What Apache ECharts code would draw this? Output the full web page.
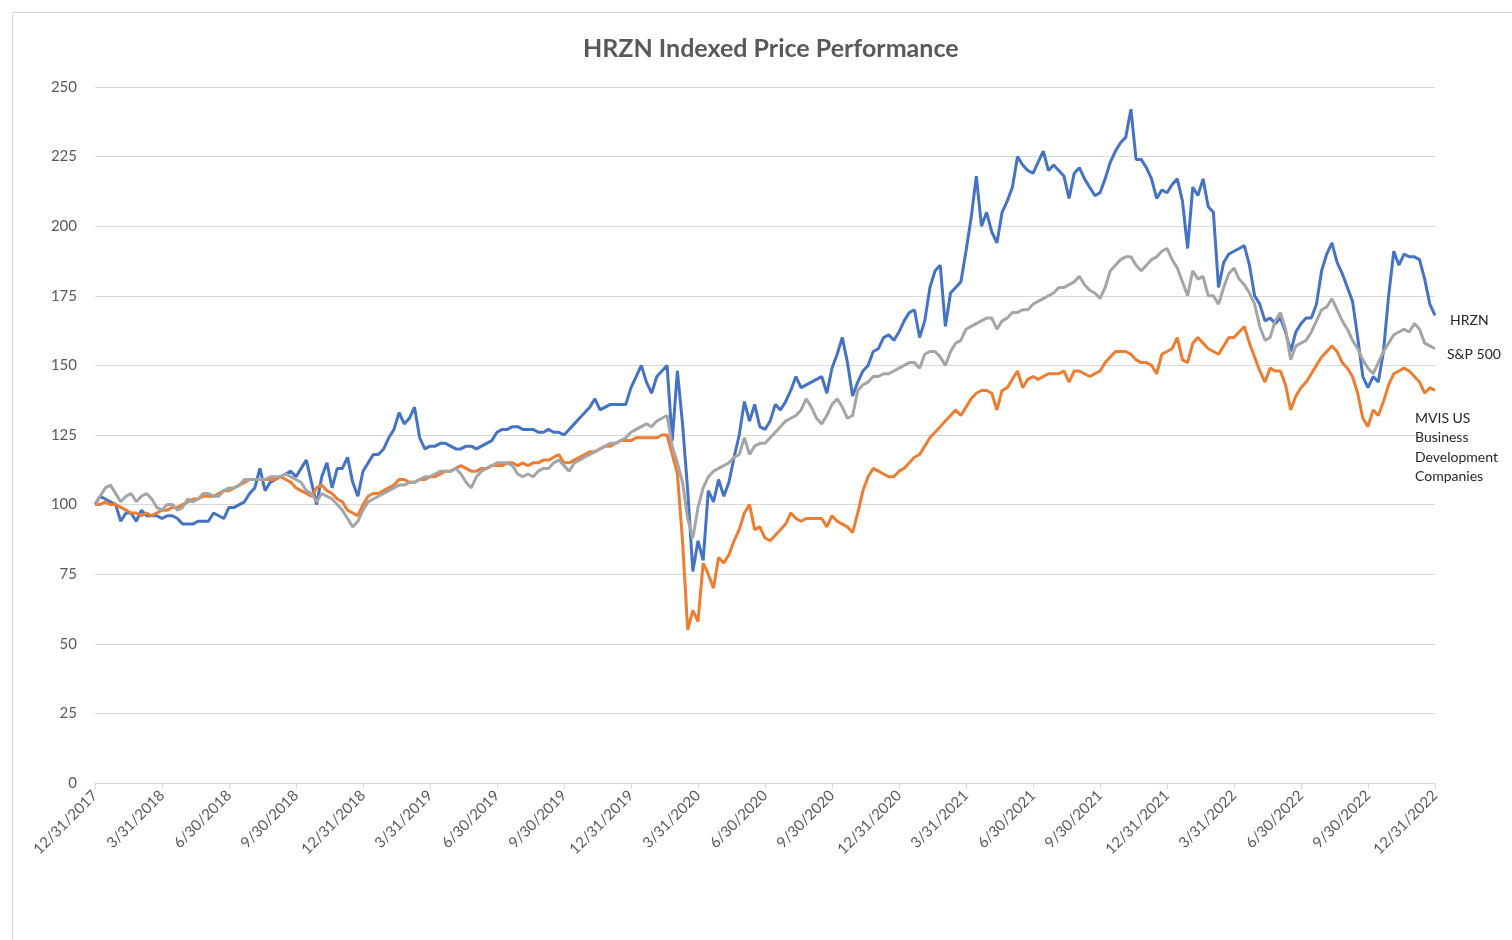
<!DOCTYPE html>
<html>
<head>
<meta charset="utf-8">
<title>HRZN Indexed Price Performance</title>
<script src="https://cdn.jsdelivr.net/npm/echarts@6/dist/echarts.min.js"></script>
<style>
html, body { margin: 0; padding: 0; background: #fff; }
#chart { width: 1512px; height: 940px; }
</style>
</head>
<body>
<div id="chart"></div>
<script>
// quarter-end tick labels (one every 13 weeks)
var quarterLabels = ["12/31/2017","3/31/2018","6/30/2018","9/30/2018","12/31/2018",
	"3/31/2019","6/30/2019","9/30/2019","12/31/2019","3/31/2020","6/30/2020",
	"9/30/2020","12/31/2020","3/31/2021","6/30/2021","9/30/2021","12/31/2021",
	"3/31/2022","6/30/2022","9/30/2022","12/31/2022"];

// weekly index values, 261 points each (week 0 = 12/31/2017)
var hrzn = [
	100,103,102,101,100,94,97,97,94,98,96,96,96,
	95,96,96,95,93,93,93,94,94,94,97,96,95,
	99,99,100,101,104,106,113,105,108,109,110,111,112,
	110,113,116,108,100,110,115,106,113,113,117,108,103,
	112,115,118,118,120,124,127,133,129,131,135,124,120,
	121,121,122,122,121,120,120,121,121,120,121,122,123,
	126,127,127,128,128,127,127,127,126,126,127,126,126,
	125,127,129,131,133,135,138,134,135,136,136,136,136,
	142,146,150,144,140,146,148,150,123,148,129,105,76,
	87,80,105,101,109,103,108,117,125,137,130,136,128,
	127,130,136,134,137,141,146,142,143,144,145,146,140,
	149,154,160,151,139,144,148,150,155,156,160,161,159,
	162,166,169,170,160,166,178,184,186,164,176,178,180,
	191,203,218,200,205,198,194,205,209,214,225,222,220,
	219,223,227,220,222,220,218,210,219,221,217,214,211,
	212,217,223,227,230,232,242,224,224,221,217,210,213,
	212,215,217,209,192,214,211,217,207,205,178,187,190,
	191,192,193,186,175,172,166,167,165,167,162,155,162,
	165,167,167,172,184,190,194,187,183,178,173,160,146,
	142,146,144,155,175,191,186,190,189,189,188,181,172,168
];
var sp500 = [
	100,103,106,107,104,101,103,104,101,103,104,102,99,
	98,100,100,98,99,102,101,102,104,104,103,103,105,
	106,106,107,109,109,109,109,109,110,110,110,111,110,
	109,108,105,104,101,104,103,102,100,98,95,92,94,
	98,101,102,103,104,105,106,107,107,108,108,109,110,
	110,111,112,112,112,113,111,108,106,110,112,113,114,
	115,115,115,114,111,110,111,110,112,113,113,115,116,
	114,112,115,116,117,118,119,120,121,122,122,123,124,
	126,127,128,129,128,130,131,132,121,115,108,95,88,
	99,106,110,112,113,114,115,117,118,124,118,121,122,
	122,124,126,128,130,131,132,134,138,135,131,129,132,
	136,138,135,131,132,141,143,144,146,146,147,147,148,
	149,150,151,151,149,154,155,155,153,150,155,158,159,
	163,164,165,166,167,167,163,166,167,169,169,170,170,
	172,173,174,175,176,178,178,179,180,182,179,177,176,
	174,178,184,186,188,189,189,186,184,186,188,189,191,
	192,188,185,180,175,184,181,182,175,175,172,178,183,
	185,181,179,176,172,164,159,160,166,169,163,152,157,
	158,159,162,166,170,171,174,170,166,163,159,156,152,
	149,147,151,155,158,161,162,163,162,165,163,158,157,156
];
var mvis = [
	100,100,101,100,100,99,98,97,97,96,97,96,97,
	98,98,99,99,100,101,102,102,103,103,103,104,105,
	105,106,107,108,109,109,109,109,109,109,110,109,108,
	106,105,104,103,106,107,105,104,102,101,98,97,96,
	100,103,104,104,105,106,107,109,109,108,108,109,109,
	110,110,111,112,112,113,114,113,112,112,113,113,114,
	114,114,115,115,114,115,114,115,115,116,116,117,118,
	115,115,116,117,118,119,119,120,121,121,122,123,123,
	123,124,124,124,124,124,125,125,118,111,87,55,62,
	58,79,75,70,81,79,82,87,91,97,100,91,92,
	88,87,89,91,93,97,95,94,95,95,95,95,92,
	96,94,93,92,90,97,105,110,113,112,111,110,110,
	112,113,115,117,118,121,124,126,128,130,132,134,132,
	135,138,140,141,141,140,134,141,142,145,148,142,145,
	146,145,146,147,147,147,148,144,148,148,147,146,147,
	148,151,153,155,155,155,154,152,151,151,150,147,154,
	155,156,160,152,151,158,160,158,156,155,154,157,160,
	160,162,164,158,153,148,144,149,148,148,143,134,139,
	142,144,147,150,153,155,157,155,151,149,146,140,131,
	128,134,132,137,143,147,148,149,148,146,144,140,142,141
];

var seriesNames = ["HRZN", "MVIS US Business Development Companies", "S&P 500"];
var endLabels = ["HRZN", "MVIS US\nBusiness\nDevelopment\nCompanies", "S&P 500"];
var seriesColors = ["#4472C4", "#ED7D31", "#A5A5A5"];

function toPoints(arr){
	var pts = [];
	for(var i = 0; i < arr.length; i++){
		pts.push([i, arr[i]]);
	}
	return pts;
}

var font = "Lato, 'Open Sans', sans-serif";
var myChart = echarts.init(document.getElementById('chart'));

var option = {
	animation: false,
	backgroundColor: "#fff",
	title: {
		text: "HRZN Indexed Price Performance",
		left: 578,
		top: 31,
		textStyle: {
			color: "#595959",
			fontSize: 25,
			fontWeight: "bold",
			fontFamily: font
		}
	},
	graphic: [{
		type: "rect",
		shape: { x: 12.5, y: 12.5, width: 1520, height: 960 },
		style: { fill: "none", stroke: "#d9d9d9", lineWidth: 1 },
		silent: true
	}],
	grid: {
		left: 95,
		right: 77,
		top: 87,
		bottom: 157
	},
	xAxis: {
		type: "value",
		min: 0,
		max: 260,
		interval: 13,
		axisLine: { lineStyle: { color: "#d9d9d9", width: 1 } },
		axisTick: { show: true, length: 6, lineStyle: { color: "#d9d9d9" } },
		splitLine: { show: false },
		axisLabel: {
			rotate: 45,
			margin: 10,
			color: "#595959",
			fontSize: 15,
			fontFamily: font,
			formatter: function(v){
				return quarterLabels[Math.round(v / 13)] || "";
			}
		}
	},
	yAxis: {
		type: "value",
		min: 0,
		max: 250,
		interval: 25,
		axisLine: { show: false },
		axisTick: { show: false },
		splitLine: { lineStyle: { color: "#d9d9d9", width: 1 } },
		axisLabel: {
			color: "#595959",
			fontSize: 15,
			margin: 18,
			fontFamily: font
		}
	},
	series: [{
		name: seriesNames[0],
		type: "line",
		data: toPoints(hrzn),
		showSymbol: false,
		lineStyle: { color: seriesColors[0], width: 3 },
		itemStyle: { color: seriesColors[0] },
		endLabel: {
			show: true,
			formatter: endLabels[0],
			distance: 15,
			offset: [0, 5],
			color: "#262626",
			fontSize: 14,
			fontFamily: font
		}
	},{
		name: seriesNames[1],
		type: "line",
		data: toPoints(mvis),
		showSymbol: false,
		lineStyle: { color: seriesColors[1], width: 3 },
		itemStyle: { color: seriesColors[1] },
		endLabel: {
			show: true,
			formatter: endLabels[1],
			distance: 0,
			offset: [-20, 57],
			color: "#262626",
			fontSize: 14,
			lineHeight: 19.5,
			fontFamily: font
		}
	},{
		name: seriesNames[2],
		type: "line",
		data: toPoints(sp500),
		showSymbol: false,
		lineStyle: { color: seriesColors[2], width: 3 },
		itemStyle: { color: seriesColors[2] },
		endLabel: {
			show: true,
			formatter: endLabels[2],
			distance: 12,
			offset: [0, 6],
			color: "#262626",
			fontSize: 14,
			fontFamily: font
		}
	}]
};
myChart.setOption(option);
</script>
</body>
</html>
